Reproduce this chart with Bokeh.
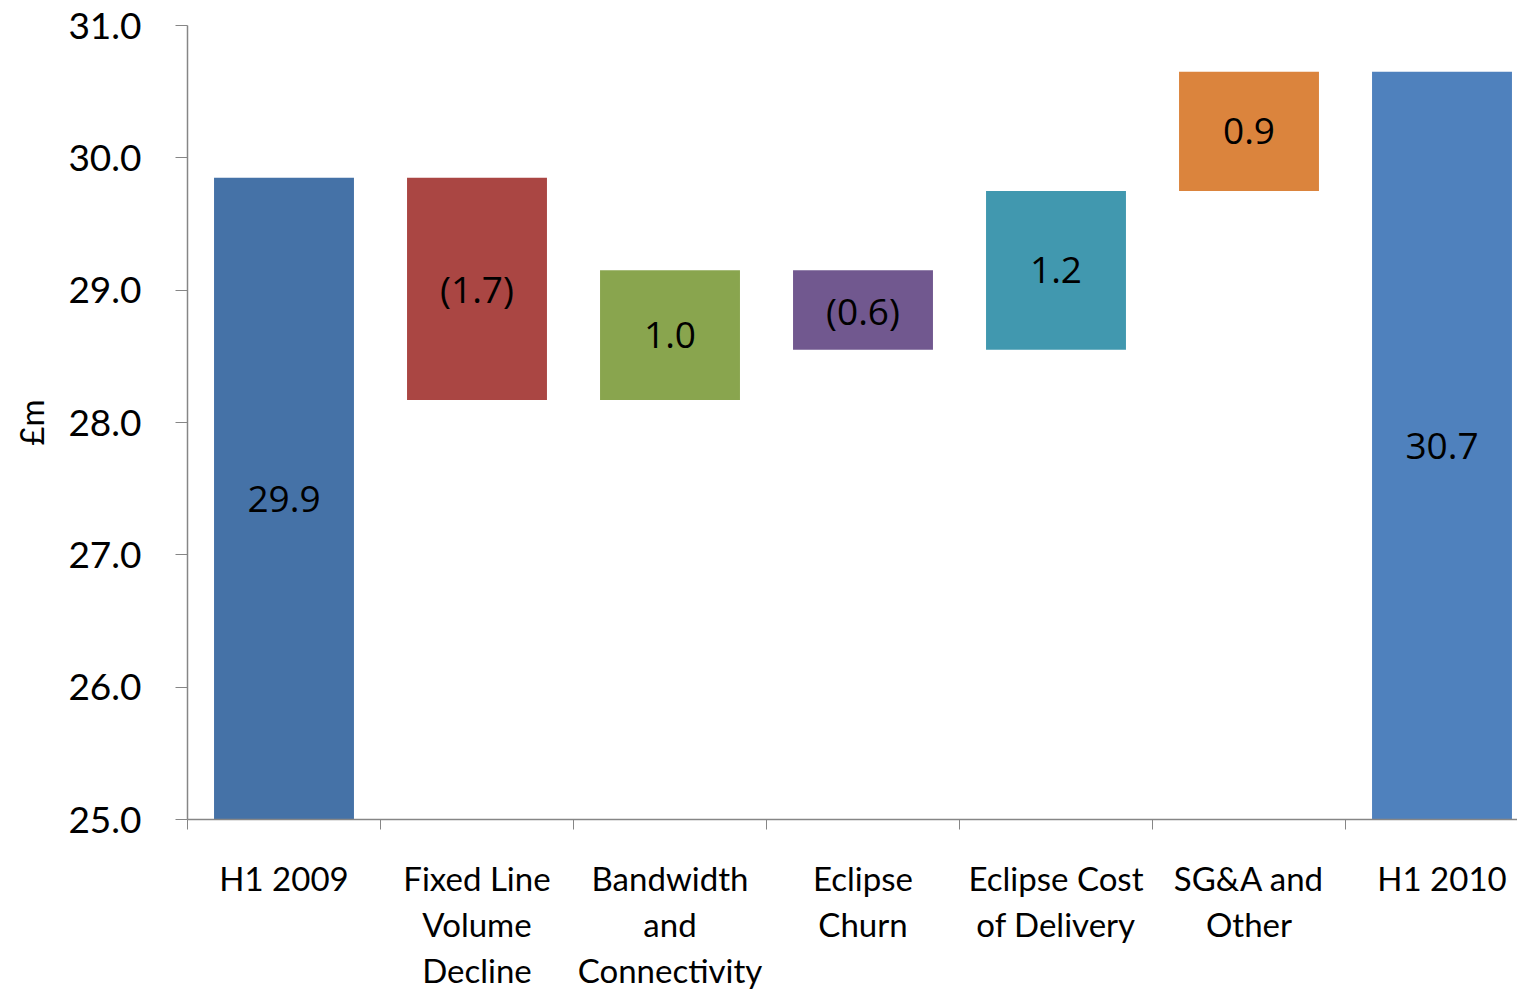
from bokeh.plotting import figure
from bokeh.models import Range1d, FixedTicker, ColumnDataSource
from bokeh.core.properties import value
from bokeh.embed import file_html
from bokeh.resources import INLINE

categories = ["H1 2009", "Fixed Line\nVolume\nDecline", "Bandwidth\nand\nConnectivity",
              "Eclipse\nChurn", "Eclipse Cost\nof Delivery", "SG&A and\nOther", "H1 2010"]
start_value = 29.85
deltas = [-1.68, 0.98, -0.60, 1.20, 0.90]
end_value = 30.65
value_labels = ["29.9", "(1.7)", "1.0", "(0.6)", "1.2", "0.9", "30.7"]
colors = ["#4572A7", "#AA4643", "#89A54E", "#71588F", "#4198AF", "#DB843D", "#4F81BD"]
y_ticks = [25.0, 26.0, 27.0, 28.0, 29.0, 30.0, 31.0]
y_min, y_max = 25.0, 31.0

bottoms, tops = [y_min], [start_value]
level = start_value
for d in deltas:
    new = level + d
    bottoms.append(min(level, new))
    tops.append(max(level, new))
    level = new
bottoms.append(y_min)
tops.append(end_value)

xs = list(range(len(categories)))
mids = [(b + t) / 2 for b, t in zip(bottoms, tops)]
src = ColumnDataSource(dict(x=xs, bottom=bottoms, top=tops, color=colors,
                            mid=mids, label=value_labels))

p = figure(width=1517, height=992, output_backend="svg", toolbar_location=None,
           x_range=Range1d(-0.5, -0.5 + 1330 / 193), y_range=Range1d(y_min, y_max),
           min_border_left=187, min_border_right=0, min_border_top=25, min_border_bottom=171)
p.outline_line_color = None
p.grid.grid_line_color = None
p.background_fill_color = "white"
p.border_fill_color = "white"

p.vbar(x="x", bottom="bottom", top="top", width=0.725, color="color", line_color=None, source=src)
p.text(x="x", y="mid", text="label", source=src, text_align="center", text_baseline="middle",
       text_font=value("Open Sans"), text_font_size="37px", text_color="#000000")

# y axis
p.yaxis.ticker = FixedTicker(ticks=y_ticks)
p.yaxis.major_label_overrides = {t: f"{t:.1f}" for t in y_ticks}
p.yaxis.axis_line_color = "#868686"
p.yaxis.axis_line_width = 1.5
p.yaxis.major_tick_line_color = "#868686"
p.yaxis.major_tick_out = 12
p.yaxis.major_tick_in = 0
p.yaxis.minor_tick_line_color = None
p.yaxis.major_label_text_font = "Lato"
p.yaxis.major_label_text_font_size = "37px"
p.yaxis.major_label_text_color = "#000000"
p.yaxis.major_label_standoff = 34
p.yaxis.axis_label = "£m"
p.yaxis.axis_label_text_font = "Lato"
p.yaxis.axis_label_text_font_size = "33px"
p.yaxis.axis_label_text_font_style = "normal"
p.yaxis.axis_label_text_color = "#000000"
p.yaxis.axis_label_standoff = 14

# x axis
p.xaxis.ticker = FixedTicker(ticks=xs, minor_ticks=[i + 0.5 for i in range(-1, len(categories) - 1)])
p.xaxis.major_label_overrides = {i: c for i, c in zip(xs, categories)}
p.xaxis.axis_line_color = "#868686"
p.xaxis.axis_line_width = 1.5
p.xaxis.major_tick_line_color = None
p.xaxis.major_tick_out = 0
p.xaxis.major_tick_in = 0
p.xaxis.minor_tick_line_color = "#868686"
p.xaxis.minor_tick_out = 10
p.xaxis.minor_tick_in = 0
p.xaxis.major_label_text_font = "Lato"
p.xaxis.major_label_text_font_size = "33px"
p.xaxis.major_label_text_color = "#000000"
p.xaxis.major_label_text_line_height = 1.15
p.xaxis.major_label_standoff = 28

open("out.html", "w").write(file_html(p, INLINE))
